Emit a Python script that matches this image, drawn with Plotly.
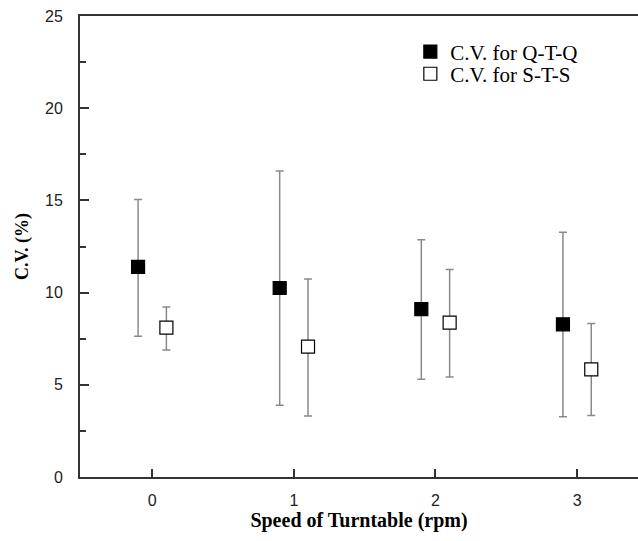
import plotly.graph_objects as go

speeds = [0, 1, 2, 3]
offset = 0.1

qtq_mean = [11.4, 10.25, 9.1, 8.28]
qtq_upper = [15.05, 16.6, 12.87, 13.27]
qtq_lower = [7.63, 3.89, 5.30, 3.27]

sts_mean = [8.1, 7.07, 8.37, 5.84]
sts_upper = [9.22, 10.74, 11.25, 8.33]
sts_lower = [6.89, 3.31, 5.42, 3.33]

y_ticks = [0, 5, 10, 15, 20, 25]

fig = go.Figure()

def add_series(name, means, uppers, lowers, shift, fill, legend):
    fig.add_trace(go.Scatter(
        x=[s + shift for s in speeds],
        y=means,
        mode="markers",
        name=name,
        legend=legend,
        marker=dict(symbol="square", size=13, color=fill,
                    line=dict(color="black", width=1.2)),
        error_y=dict(type="data", symmetric=False,
                     array=[u - m for u, m in zip(uppers, means)],
                     arrayminus=[m - l for m, l in zip(means, lowers)],
                     color="#8a8a8a", thickness=1.5, width=4),
    ))

add_series("C.V. for Q-T-Q", qtq_mean, qtq_upper, qtq_lower, -offset, "black", "legend")
add_series("C.V. for S-T-S", sts_mean, sts_upper, sts_lower, offset, "white", "legend2")

legend_font = dict(family="Liberation Serif", size=21, color="black")

fig.update_layout(
    width=638, height=541,
    margin=dict(l=80, r=0, t=16, b=64),
    plot_bgcolor="white", paper_bgcolor="white",
    showlegend=True,
    legend=dict(x=0.592, y=0.922, xanchor="left", yanchor="middle",
                font=legend_font, bgcolor="rgba(0,0,0,0)", itemwidth=30),
    legend2=dict(x=0.592, y=0.874, xanchor="left", yanchor="middle",
                 font=legend_font, bgcolor="rgba(0,0,0,0)", itemwidth=30),
    xaxis=dict(
        range=[-0.51, 3.43], tickvals=speeds, ticktext=[str(s) for s in speeds],
        showgrid=False, zeroline=False, automargin=False,
        showline=True, linecolor="#333333", linewidth=2, mirror=True,
        ticks="inside", ticklen=8, tickwidth=2, tickcolor="#333333",
        tickfont=dict(family="Liberation Sans", size=16, color="#222222"),
        ticklabelstandoff=8,
        title=dict(text="<b>Speed of Turntable (rpm)</b>",
                   font=dict(family="Liberation Serif", size=20, color="black"),
                   standoff=0),
    ),
    yaxis=dict(
        range=[0, 25], tickvals=y_ticks,
        showgrid=False, zeroline=False, automargin=False,
        showline=True, linecolor="#333333", linewidth=2,
        ticks="inside", ticklen=9, tickwidth=2, tickcolor="#333333",
        minor=dict(dtick=2.5, ticks="inside", ticklen=6, tickwidth=2, tickcolor="#333333"),
        tickfont=dict(family="Liberation Sans", size=16, color="#222222"),
        ticklabelstandoff=12,
        title=dict(text="<b>C.V. (%)</b>",
                   font=dict(family="Liberation Serif", size=18, color="black"),
                   standoff=12),
    ),
)

fig.write_html("out.html", config={"displayModeBar": False},
               post_script="document.body.style.margin='0';")
